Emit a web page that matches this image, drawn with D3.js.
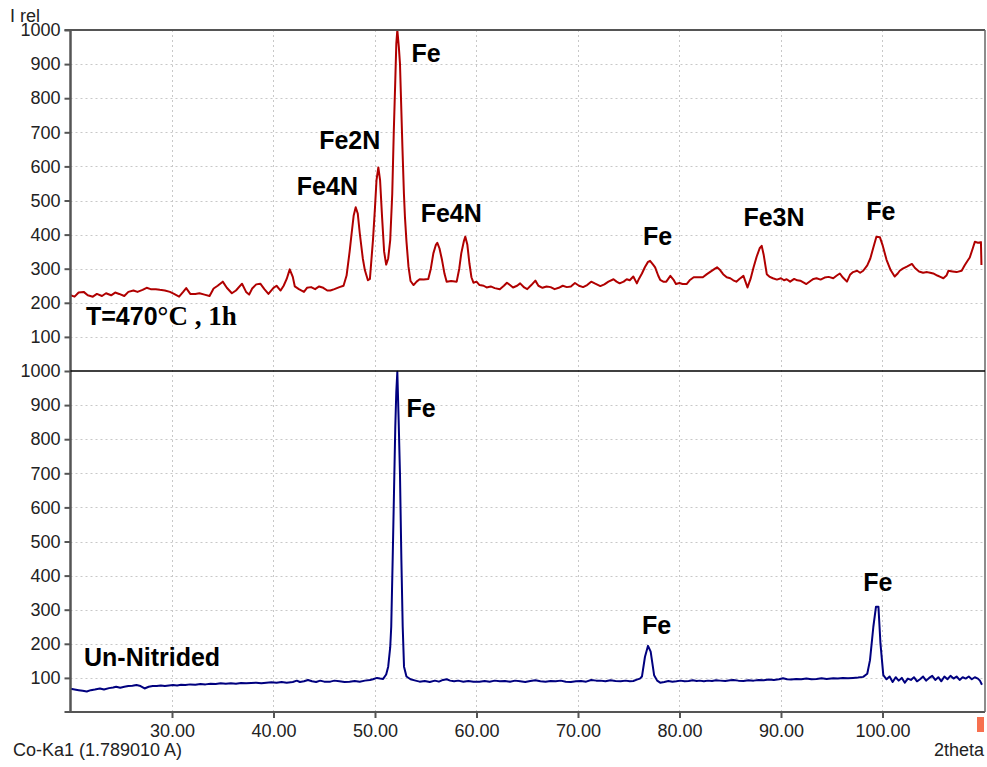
<!DOCTYPE html>
<html>
<head>
<meta charset="utf-8">
<script src="https://cdn.jsdelivr.net/npm/d3@7"></script>
<style>
  body { margin: 0; background: #fff; }
  svg { display: block; }
  .tick text { font-family: Arial, "Liberation Sans", sans-serif; font-size: 18px; fill: #222; }
  .lbl { font-family: Arial, "Liberation Sans", sans-serif; font-weight: bold; font-size: 25px; fill: #000; }
</style>
</head>
<body>
<svg width="987" height="767"></svg>
<script>
// XRD pattern, nitrided sample (T=470°C, 1h) - [2theta, I rel]
const nitrided = [
  [20.0,222],[20.4,218],[20.8,230],[21.3,232],[21.7,222],[22.2,218],[22.6,226],[23.1,220],[23.5,228],[24.0,222],
  [24.4,230],[24.8,226],[25.3,220],[25.7,232],[26.2,236],[26.6,232],[27.1,238],[27.5,244],[27.9,240],[28.4,240],
  [28.8,238],[29.3,236],[29.8,232],[30.2,226],[30.7,218],[31.1,232],[31.4,243],[31.8,226],[32.3,226],[32.7,228],
  [33.2,224],[33.7,220],[34.1,242],[34.5,250],[35.0,262],[35.4,244],[35.9,228],[36.3,236],[36.9,256],[37.3,232],
  [37.6,224],[37.9,242],[38.3,254],[38.7,256],[39.1,240],[39.5,226],[40.0,244],[40.3,250],[40.7,236],[41.0,250],
  [41.3,270],[41.6,298],[41.9,276],[42.1,248],[42.5,240],[43.0,232],[43.3,244],[43.7,246],[44.1,240],[44.5,248],
  [44.9,244],[45.3,236],[45.6,236],[46.0,240],[46.5,246],[46.9,250],[47.2,280],[47.5,350],[47.7,404],[47.9,456],
  [48.1,480],[48.3,462],[48.5,404],[48.8,330],[49.0,296],[49.3,266],[49.5,270],[49.8,384],[50.0,480],[50.15,560],
  [50.33,597],[50.5,560],[50.7,450],[50.9,350],[51.1,312],[51.3,330],[51.5,384],[51.7,520],[51.85,700],[52.0,853],
  [52.1,960],[52.2,1000],[52.35,950],[52.46,902],[52.6,760],[52.7,658],[52.85,520],[52.95,452],[53.1,380],[53.3,306],
  [53.5,264],[53.8,252],[54.1,262],[54.4,269],[54.8,268],[55.25,270],[55.5,300],[55.75,345],[56.0,370],[56.14,376],
  [56.35,360],[56.6,326],[56.85,285],[57.06,262],[57.5,264],[58.05,262],[58.3,300],[58.5,345],[58.75,380],[58.9,394],
  [59.1,370],[59.3,316],[59.5,275],[59.7,259],[60.0,262],[60.3,252],[60.7,250],[61.0,245],[61.4,248],[61.8,243],
  [62.3,240],[62.7,250],[63.0,259],[63.3,252],[63.6,245],[64.0,250],[64.3,257],[64.7,245],[65.0,240],[65.4,252],
  [65.8,265],[66.1,250],[66.5,244],[66.9,248],[67.3,246],[67.7,240],[68.1,244],[68.5,250],[68.9,246],[69.3,248],
  [69.7,258],[70.1,250],[70.5,246],[70.9,252],[71.3,262],[71.7,256],[72.2,249],[72.6,254],[73.0,262],[73.5,269],
  [73.8,262],[74.1,257],[74.5,262],[74.8,269],[75.1,266],[75.45,277],[75.8,257],[76.0,270],[76.3,286],[76.6,305],
  [76.9,320],[77.1,323],[77.4,312],[77.6,304],[77.9,280],[78.1,267],[78.4,262],[78.7,262],[79.1,279],[79.4,268],
  [79.65,255],[80.0,258],[80.3,255],[80.7,255],[81.0,266],[81.4,275],[81.9,275],[82.3,275],[82.7,284],[83.1,292],
  [83.5,300],[83.7,304],[84.0,296],[84.3,284],[84.65,275],[85.0,272],[85.3,266],[85.6,262],[85.9,270],[86.3,279],
  [86.5,262],[86.7,245],[87.0,270],[87.3,304],[87.6,335],[87.9,360],[88.1,367],[88.3,340],[88.6,284],[88.9,276],
  [89.2,272],[89.6,268],[90.0,272],[90.3,266],[90.56,269],[90.9,262],[91.3,270],[91.6,266],[91.9,265],[92.2,260],
  [92.5,255],[92.9,264],[93.2,270],[93.5,272],[93.9,268],[94.3,274],[94.7,276],[95.15,272],[95.5,280],[95.8,286],
  [96.1,274],[96.5,262],[96.8,282],[97.1,290],[97.5,294],[97.8,288],[98.1,294],[98.5,310],[98.8,330],[99.1,362],
  [99.4,394],[99.75,392],[100.0,370],[100.4,326],[100.8,296],[101.2,277],[101.5,286],[101.7,294],[102.0,300],[102.4,306],
  [102.9,314],[103.2,302],[103.6,292],[104.0,288],[104.4,290],[104.7,288],[105.0,286],[105.4,280],[105.7,276],[106.0,272],
  [106.3,280],[106.5,294],[106.9,292],[107.3,290],[107.8,294],[108.1,310],[108.4,324],[108.6,333],[108.9,360],[109.1,379],
  [109.4,376],[109.7,378],[109.75,311]
];

// XRD pattern, un-nitrided sample
const unNitrided = [
  [20.0,68],[20.4,66],[20.8,64],[21.2,62],[21.6,60],[22.0,64],[22.4,66],[22.9,69],[23.3,66],[23.8,70],
  [24.2,72],[24.5,74],[24.9,71],[25.3,74],[25.7,76],[26.1,77],[26.5,79],[26.9,76],[27.3,69],[27.7,74],
  [28.1,76],[28.5,76],[28.9,78],[29.3,76],[29.7,78],[30.1,79],[30.5,78],[30.9,80],[31.3,79],[31.8,81],
  [32.3,80],[32.8,82],[33.3,81],[33.8,83],[34.3,82],[34.8,84],[35.3,83],[35.8,84],[36.3,83],[36.8,85],
  [37.3,84],[37.8,85],[38.3,86],[38.8,84],[39.3,86],[39.8,87],[40.3,86],[40.8,88],[41.3,86],[41.9,88],
  [42.3,92],[42.6,88],[43.0,90],[43.4,94],[43.8,90],[44.2,88],[44.6,92],[45.0,89],[45.6,89],[46.0,92],
  [46.5,90],[47.0,88],[47.5,89],[48.0,91],[48.5,89],[49.0,92],[49.5,94],[49.8,96],[50.2,100],[50.5,98],
  [50.8,97],[51.1,110],[51.3,133],[51.5,190],[51.6,250],[51.74,446],[51.87,641],[52.0,837],[52.1,940],[52.2,998],
  [52.33,856],[52.46,700],[52.6,446],[52.73,250],[52.86,133],[53.1,104],[53.5,96],[54.0,92],[54.4,89],[54.9,91],
  [55.4,88],[55.9,92],[56.3,89],[56.7,94],[57.07,96],[57.4,92],[57.8,90],[58.2,92],[58.7,89],[59.2,91],
  [59.7,89],[60.3,89],[60.8,91],[61.3,89],[61.8,92],[62.3,90],[62.8,91],[63.3,89],[63.8,92],[64.3,90],
  [64.8,88],[65.3,91],[65.8,93],[66.3,90],[66.8,89],[67.3,91],[67.8,90],[68.3,92],[68.8,89],[69.3,88],
  [69.8,90],[70.3,91],[70.8,89],[71.3,94],[71.8,92],[72.2,92],[72.7,90],[73.2,93],[73.7,91],[74.2,90],
  [74.7,92],[75.1,90],[75.45,91],[75.8,95],[76.1,98],[76.3,104],[76.6,162],[76.9,194],[77.16,177],[77.5,108],
  [77.8,92],[78.1,86],[78.5,88],[78.9,91],[79.3,89],[79.7,90],[80.1,92],[80.5,90],[80.9,91],[81.3,93],
  [81.7,91],[82.0,92],[82.4,90],[82.8,92],[83.2,91],[83.6,93],[84.0,92],[84.5,91],[85.0,93],[85.3,94],
  [85.8,92],[86.3,91],[86.8,93],[87.3,92],[87.8,94],[88.3,93],[88.8,95],[89.3,94],[89.8,96],[90.2,99],
  [90.6,96],[91.0,95],[91.5,97],[92.0,96],[92.5,98],[93.0,96],[93.5,97],[94.0,99],[94.5,97],[95.15,99],
  [95.6,98],[96.1,100],[96.6,99],[97.1,100],[97.6,101],[98.1,103],[98.5,112],[98.77,152],[99.1,250],[99.36,309],
  [99.6,309],[99.8,201],[100.08,108],[100.4,96],[100.7,104],[101.0,88],[101.3,102],[101.6,92],[101.9,100],[102.2,86],
  [102.5,98],[102.8,94],[103.1,102],[103.4,90],[103.7,96],[104.0,104],[104.3,92],[104.6,100],[104.9,106],[105.2,94],
  [105.5,102],[105.8,90],[106.1,104],[106.4,96],[106.7,106],[107.0,98],[107.3,104],[107.6,94],[107.9,102],[108.2,98],
  [108.5,104],[108.8,96],[109.1,102],[109.4,98],[109.6,92],[109.8,80]
];

const xTicks = [30, 40, 50, 60, 70, 80, 90, 100];
const yTicks = [100, 200, 300, 400, 500, 600, 700, 800, 900, 1000];

// peak labels: [2theta at label left, intensity at baseline, text]
const topLabels = [
  [53.6, 905, "Fe"], [44.5, 650, "Fe2N"], [42.3, 515, "Fe4N"],
  [54.5, 438, "Fe4N"], [76.4, 370, "Fe"], [86.3, 424, "Fe3N"], [98.4, 443, "Fe"]
];
const bottomLabels = [
  [53.1, 865, "Fe"], [76.3, 228, "Fe"], [98.1, 355, "Fe"]
];

const svg = d3.select("svg");
const plotLeft = 70.5, plotRight = 985, plotTop = 30, plotMid = 371, plotBottom = 712;

const x = d3.scaleLinear().domain([20, 110.1]).range([plotLeft, plotRight]);
const yTop = d3.scaleLinear().domain([0, 1000]).range([plotMid, plotTop]);
const yBot = d3.scaleLinear().domain([0, 1000]).range([plotBottom, plotMid]);

// gridlines
const grid = svg.append("g")
  .attr("stroke", "#c8c8c8")
  .attr("stroke-width", 1)
  .attr("stroke-dasharray", "2,3");
grid.append("g").selectAll("line").data(xTicks).join("line")
  .attr("x1", (d) => Math.round(x(d)) + 0.5).attr("x2", (d) => Math.round(x(d)) + 0.5)
  .attr("y1", plotTop).attr("y2", plotBottom);
[yTop, yBot].forEach((y) => {
  grid.append("g").selectAll("line").data(yTicks.slice(0, 9)).join("line")
    .attr("x1", plotLeft).attr("x2", plotRight)
    .attr("y1", (d) => Math.round(y(d)) + 0.5).attr("y2", (d) => Math.round(y(d)) + 0.5);
});

// series
const line = (y) => d3.line().x((d) => x(d[0])).y((d) => y(d[1]));
svg.append("path").datum(nitrided)
  .attr("fill", "none").attr("stroke", "#b00000").attr("stroke-width", 2)
  .attr("stroke-linejoin", "round")
  .attr("d", line(yTop));
svg.append("path").datum(unNitrided)
  .attr("fill", "none").attr("stroke", "#00007f").attr("stroke-width", 2)
  .attr("stroke-linejoin", "round")
  .attr("d", line(yBot));

// axes
const yAxisStyle = (g) => {
  g.select(".domain").remove();
  g.selectAll(".tick line").attr("stroke", "#555").attr("stroke-width", 2);
  g.selectAll(".tick text").attr("x", -10);
};
svg.append("g").attr("transform", `translate(${plotLeft},0)`)
  .call(d3.axisLeft(yTop).tickValues(yTicks).tickSize(6).tickFormat(d3.format("d")))
  .call(yAxisStyle);
svg.append("g").attr("transform", `translate(${plotLeft},0)`)
  .call(d3.axisLeft(yBot).tickValues(yTicks).tickSize(6).tickFormat(d3.format("d")))
  .call(yAxisStyle);
svg.append("g").attr("transform", `translate(0,${plotBottom})`)
  .call(d3.axisBottom(x).tickValues(xTicks).tickSize(6).tickFormat(d3.format(".2f")))
  .call((g) => {
    g.select(".domain").remove();
    g.selectAll(".tick line").attr("stroke", "#555").attr("stroke-width", 2);
    g.selectAll(".tick text").attr("y", 12);
  });

// frame
const frame = svg.append("g").attr("fill", "none");
frame.append("line").attr("x1", plotLeft).attr("x2", plotLeft).attr("y1", plotTop - 1).attr("y2", plotBottom + 1)
  .attr("stroke", "#555").attr("stroke-width", 2.5);
frame.append("line").attr("x1", plotLeft - 6).attr("x2", plotRight).attr("y1", plotTop).attr("y2", plotTop)
  .attr("stroke", "#555").attr("stroke-width", 2);
frame.append("line").attr("x1", plotLeft - 6).attr("x2", plotRight).attr("y1", plotBottom).attr("y2", plotBottom)
  .attr("stroke", "#555").attr("stroke-width", 2);
frame.append("line").attr("x1", plotRight).attr("x2", plotRight).attr("y1", plotTop).attr("y2", plotBottom)
  .attr("stroke", "#666").attr("stroke-width", 1.5);
frame.append("line").attr("x1", plotLeft).attr("x2", plotRight).attr("y1", plotMid).attr("y2", plotMid)
  .attr("stroke", "#000").attr("stroke-width", 1.5);

// peak labels
svg.append("g").selectAll("text").data(topLabels).join("text")
  .attr("class", "lbl").attr("x", (d) => x(d[0])).attr("y", (d) => yTop(d[1])).text((d) => d[2]);
svg.append("g").selectAll("text").data(bottomLabels).join("text")
  .attr("class", "lbl").attr("x", (d) => x(d[0])).attr("y", (d) => yBot(d[1])).text((d) => d[2]);

// sample captions
const cond = svg.append("text").attr("x", 86).attr("y", 325).attr("class", "lbl");
cond.append("tspan").text("T=470");
cond.append("tspan").attr("font-family", "'Liberation Serif', 'Times New Roman', serif")
  .attr("font-size", "27px").text("°C , 1h");
svg.append("text").attr("class", "lbl").attr("x", 84).attr("y", 666).text("Un-Nitrided");

// axis captions
const cap = { "font-family": "Arial, 'Liberation Sans', sans-serif", "font-size": "18px", fill: "#222" };
const caption = (tx, ty, anchor, s) => {
  const t = svg.append("text").attr("x", tx).attr("y", ty).attr("text-anchor", anchor).text(s);
  Object.entries(cap).forEach(([k, v]) => t.attr(k, v));
};
caption(10, 22, "start", "I rel");
caption(13, 756, "start", "Co-Ka1 (1.789010 A)");
caption(984, 756, "end", "2theta");

// scroll marker
svg.append("rect").attr("x", 977).attr("y", 717).attr("width", 7).attr("height", 15).attr("fill", "#f7704f");
</script>
</body>
</html>
